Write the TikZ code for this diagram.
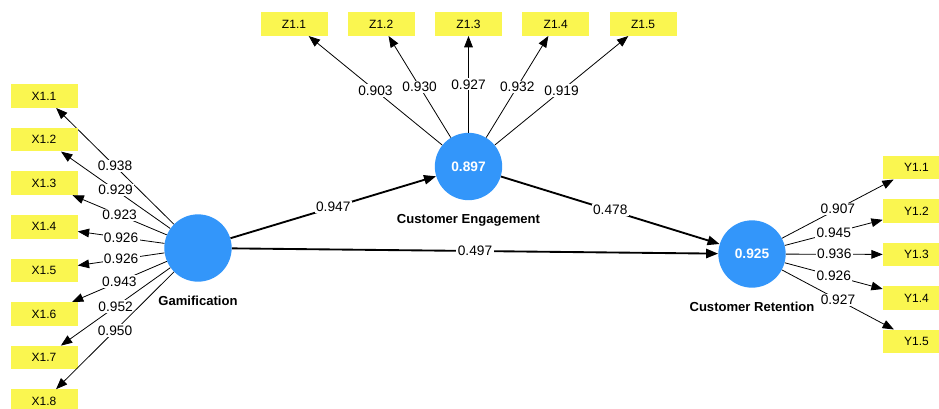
\documentclass[tikz,border=0pt]{standalone}
\usepackage{fontspec}
\setmainfont{Liberation Sans}
\usetikzlibrary{arrows.meta}

\definecolor{lvblue}{RGB}{51,150,250}
\definecolor{indyellow}{RGB}{250,246,80}

\begin{document}
\begin{tikzpicture}[x=0.75pt,y=-0.75pt,
    latent/.style={circle, fill=lvblue, minimum size=50.5pt, inner sep=0pt,
        text=white, font=\fontsize{10.3}{12}\selectfont\bfseries},
    lvname/.style={font=\fontsize{9.8}{12}\selectfont\bfseries},
    indicator/.style={fill=indyellow, minimum width=50.25pt, minimum height=17.6pt,
        inner sep=0pt, font=\fontsize{9}{11}\selectfont},
    loading/.style={-{Triangle[length=8.5pt,width=6.5pt]}, line width=0.6pt},
    inner/.style={-{Triangle[length=9pt,width=7pt]}, line width=1.4pt},
    coef/.style={fill=white, inner sep=1pt, font=\fontsize{10.3}{12}\selectfont}]
    \useasboundingbox (0,0) rectangle (939,408);

    % latent variables
    \node[latent] (gam) at (198,248) {};
    \node[latent] (eng) at (468.5,166.5) {0.897};
    \node[latent] (ret) at (752,254) {0.925};
    \node[lvname] (gamname) at (198,301) {Gamification};
    \node[lvname] (engname) at (468.5,220) {Customer Engagement};
    \node[lvname] (retname) at (752,307) {Customer Retention};

    % gamification indicators
    \foreach \i/\yy/\ld in {1/96/0.938, 2/139.6/0.929, 3/183.2/0.923, 4/226.8/0.926,
            5/270.4/0.926, 6/314/0.943, 7/357.6/0.952, 8/401.2/0.950} {
        \node[indicator] (x\i) at (44,\yy) {X1.\i};
        \draw[loading] (gam) -- (x\i) node[coef, midway] {\ld};
    }

    % engagement indicators
    \foreach \i/\xx/\ld in {1/294/0.903, 2/381.2/0.930, 3/468.5/0.927,
            4/555.7/0.932, 5/643/0.919} {
        \node[indicator] (z\i) at (\xx,24) {Z1.\i};
        \draw[loading] (eng) -- (z\i) node[coef, midway] {\ld};
    }

    % retention indicators
    \foreach \i/\yy/\ld in {1/167.5/0.907, 2/211/0.945, 3/254.5/0.936,
            4/298/0.926, 5/341.5/0.927} {
        \node[indicator] (y\i) at (916.5,\yy) {Y1.\i};
        \draw[loading] (ret) -- (y\i) node[coef, midway] {\ld};
    }

    % inner model
    \draw[inner] (gam) -- (eng) node[coef, midway] {0.947};
    \draw[inner] (eng) -- (ret) node[coef, midway] {0.478};
    \draw[inner] (gam) -- (ret) node[coef, midway] {0.497};
\end{tikzpicture}
\end{document}
